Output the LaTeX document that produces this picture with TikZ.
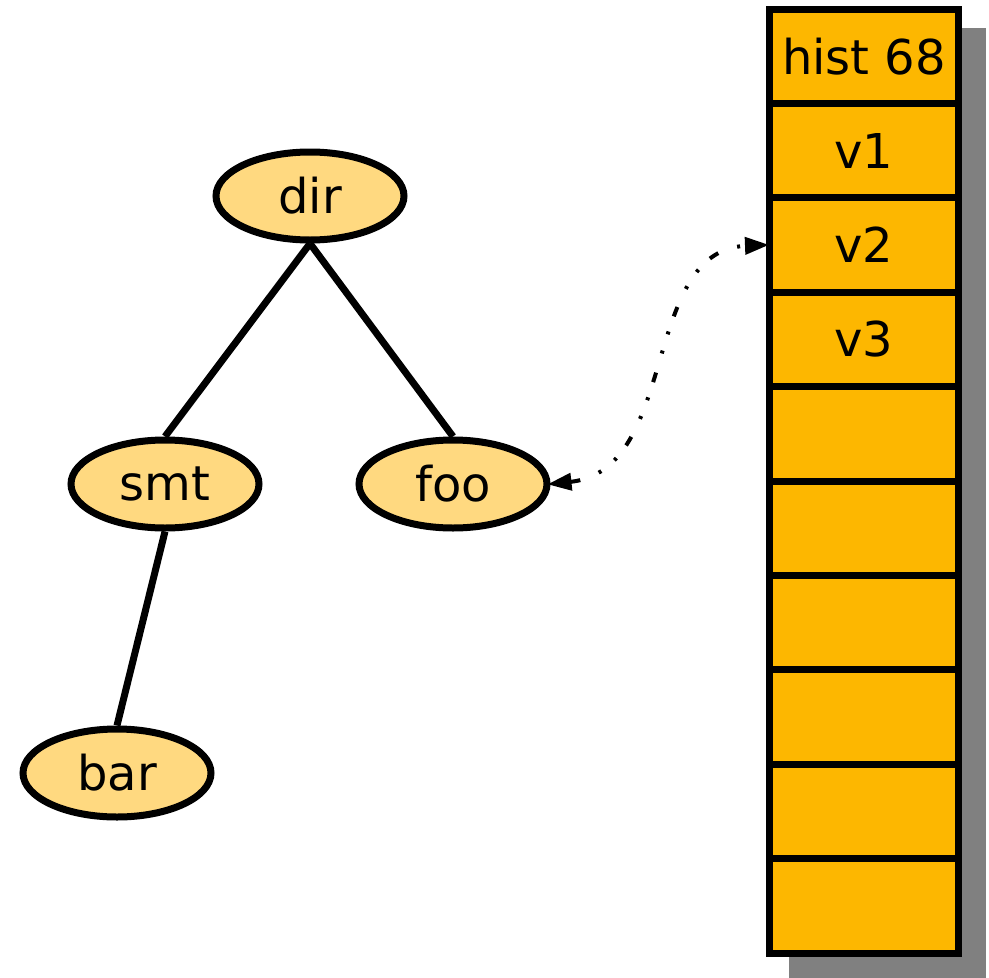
\documentclass[tikz,border=0pt]{standalone}
\usepackage{fontspec}
\setmainfont{DejaVu Sans}
\usetikzlibrary{shapes.geometric,arrows.meta}
\definecolor{nodefill}{RGB}{255,217,128}
\definecolor{cellfill}{RGB}{253,183,0}
\definecolor{shadowgray}{RGB}{128,128,128}
\tikzset{
  treenode/.style={ellipse, draw=black, fill=nodefill, line width=7pt, minimum width=188pt, minimum height=88pt, inner sep=0pt, font=\fontsize{48}{58}\selectfont},
  treeedge/.style={line width=7pt, black},
  cell/.style={rectangle, draw=black, fill=cellfill, line width=7pt, minimum width=189pt, minimum height=94.4pt, inner sep=0pt, font=\fontsize{48}{58}\selectfont},
  linkarrow/.style={line width=4pt, dash pattern=on 10pt off 20pt on 3pt off 17pt on 3pt off 16pt, {Triangle[length=24pt,width=17pt]}-{Triangle[length=24pt,width=17pt]}, shorten <=-3pt, shorten >=-3pt}
}
\begin{document}
\begin{tikzpicture}[x=1pt,y=-1pt]
\useasboundingbox (0,0) rectangle (989,978);
% shadow of the column
\fill[shadowgray] (789,28) rectangle (986,978);
% column cells
\node[cell] (c0) at (864,56.2) {hist 68};
\node[cell] (c1) at (864,150.6) {v1};
\node[cell] (c2) at (864,245.0) {v2};
\node[cell] (c3) at (864,339.4) {v3};
\node[cell] (c4) at (864,433.8) {};
\node[cell] (c5) at (864,528.2) {};
\node[cell] (c6) at (864,622.6) {};
\node[cell] (c7) at (864,717.0) {};
\node[cell] (c8) at (864,811.4) {};
\node[cell] (c9) at (864,905.8) {};
% tree
\node[treenode] (dir) at (310,196) {dir};
\node[treenode] (smt) at (165,484) {smt};
\node[treenode] (foo) at (453,484) {foo};
\node[treenode] (bar) at (117,773) {bar};
\draw[treeedge] (dir.south) -- (smt.north);
\draw[treeedge] (dir.south) -- (foo.north);
\draw[treeedge] (smt.south) -- (bar.north);
% link
\draw[linkarrow] (foo.east) .. controls (680,470) and (640,250) .. (c2.west);
\end{tikzpicture}
\end{document}
